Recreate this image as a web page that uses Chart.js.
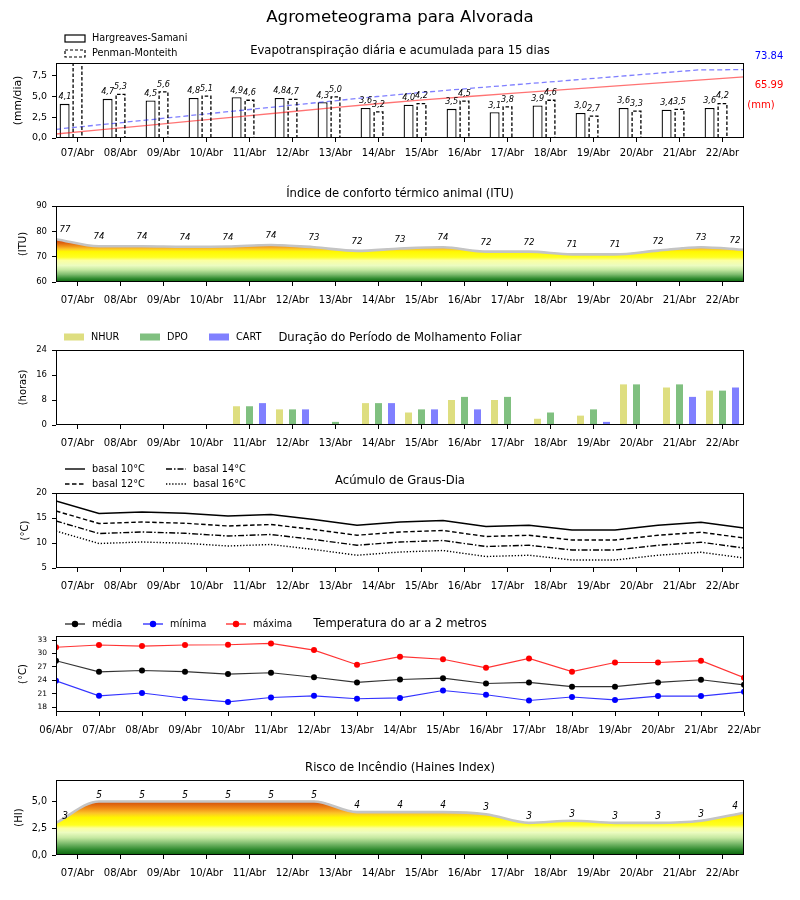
<!DOCTYPE html>
<html lang="pt-BR">
<head>
<meta charset="utf-8">
<title>Agrometeograma para Alvorada</title>
<script src="https://cdn.jsdelivr.net/npm/chart.js@4.4.1/dist/chart.umd.min.js"></script>
<style>
  body { margin: 0; background: #fff; }
  #pagina { position: relative; width: 800px; height: 900px; }
  #pagina canvas { position: absolute; left: 0; }
</style>
</head>
<body>
<div id="pagina">
  <canvas id="graficoEto" width="800" height="170" style="top:0px"></canvas>
  <canvas id="graficoItu" width="800" height="143" style="top:170px"></canvas>
  <canvas id="graficoMolhamento" width="800" height="143" style="top:313px"></canvas>
  <canvas id="graficoGrausDia" width="800" height="143" style="top:456px"></canvas>
  <canvas id="graficoTemperatura" width="800" height="143" style="top:599px"></canvas>
  <canvas id="graficoHaines" width="800" height="143" style="top:742px"></canvas>
</div>
<script>
  // dias da previsão
  const dias = ["07/Abr", "08/Abr", "09/Abr", "10/Abr", "11/Abr", "12/Abr", "13/Abr", "14/Abr",
    "15/Abr", "16/Abr", "17/Abr", "18/Abr", "19/Abr", "20/Abr", "21/Abr", "22/Abr"];
  const diasTemperatura = ["06/Abr", "07/Abr", "08/Abr", "09/Abr", "10/Abr", "11/Abr", "12/Abr", "13/Abr",
    "14/Abr", "15/Abr", "16/Abr", "17/Abr", "18/Abr", "19/Abr", "20/Abr", "21/Abr", "22/Abr"];

  // evapotranspiração (mm/dia) e acumulado (mm)
  const etoHargreaves = [4.1, 4.7, 4.5, 4.8, 4.9, 4.8, 4.3, 3.6, 4.0, 3.5, 3.1, 3.9, 3.0, 3.6, 3.4, 3.6];
  const etoPenman = [9.5, 5.3, 5.6, 5.1, 4.6, 4.7, 5.0, 3.2, 4.2, 4.5, 3.8, 4.6, 2.7, 3.3, 3.5, 4.2];
  const acumHargreaves = [4.3, 9.0, 13.7, 18.4, 23.1, 27.8, 32.5, 37.0, 41.2, 44.8, 48.4, 51.9, 55.4, 58.9, 62.4, 65.99];
  const acumPenman = [9.4, 14.5, 19.5, 24.6, 29.7, 34.7, 39.8, 44.8, 49.3, 53.5, 57.5, 61.5, 65.5, 69.5, 73.5, 73.84];

  // ITU
  const itu = [76.9, 74.1, 74.1, 73.9, 74.0, 74.6, 73.7, 72.3, 73.2, 73.7, 72.0, 72.0, 70.9, 70.9, 72.4, 73.7, 72.7];
  const ituRotulos = [77, 74, 74, 74, 74, 74, 73, 72, 73, 74, 72, 72, 71, 71, 72, 73, 72];

  // molhamento foliar (horas)
  const molhNhur = [0, 0, 0, 0, 6, 5, 0, 7, 4, 8, 8, 2, 3, 13, 12, 11];
  const molhDpo = [0, 0, 0, 0, 6, 5, 1, 7, 5, 9, 9, 4, 5, 13, 13, 11];
  const molhCart = [0, 0, 0, 0, 7, 5, 0, 7, 5, 5, 0, 0, 1, 0, 9, 12];

  // graus-dia
  const gd10 = [18.4, 15.9, 16.2, 15.95, 15.4, 15.7, 14.7, 13.55, 14.2, 14.5, 13.3, 13.55, 12.6, 12.6, 13.55, 14.15, 13.0];
  const gd12 = [16.4, 13.9, 14.2, 13.95, 13.4, 13.7, 12.7, 11.55, 12.2, 12.5, 11.3, 11.55, 10.6, 10.6, 11.55, 12.15, 11.0];
  const gd14 = [14.4, 11.9, 12.2, 11.95, 11.4, 11.7, 10.7, 9.55, 10.2, 10.5, 9.3, 9.55, 8.6, 8.6, 9.55, 10.15, 9.0];
  const gd16 = [12.4, 9.9, 10.2, 9.95, 9.4, 9.7, 8.7, 7.55, 8.2, 8.5, 7.3, 7.55, 6.6, 6.6, 7.55, 8.15, 7.0];

  // temperatura do ar (°C)
  const tMedia = [28.4, 25.9, 26.2, 25.95, 25.4, 25.7, 24.7, 23.55, 24.2, 24.5, 23.3, 23.55, 22.6, 22.6, 23.55, 24.15, 23.0];
  const tMinima = [23.9, 20.55, 21.2, 20.0, 19.2, 20.2, 20.55, 19.9, 20.1, 21.75, 20.8, 19.5, 20.3, 19.65, 20.5, 20.5, 21.45];
  const tMaxima = [31.4, 31.9, 31.65, 31.9, 31.95, 32.25, 30.75, 27.5, 29.3, 28.7, 26.8, 28.9, 25.95, 28.0, 28.0, 28.4, 24.6];

  // Haines
  const haines = [3.0, 5.0, 5.0, 5.0, 5.0, 5.0, 5.0, 4.0, 4.0, 4.0, 3.8, 3.0, 3.2, 3.0, 3.0, 3.2, 3.95];
  const hainesRotulos = [3, 5, 5, 5, 5, 5, 5, 4, 4, 4, 3, 3, 3, 3, 3, 3, 4];

  // marcas dos eixos
  const marcasEto = [0, 2.5, 5, 7.5];
  const marcasItu = [60, 70, 80, 90];
  const marcasMolh = [0, 8, 16, 24];
  const marcasGd = [5, 10, 15, 20];
  const marcasTemp = [18, 21, 24, 27, 30, 33];
  const marcasHaines = [0, 2.5, 5];

  const FONTE = '"DejaVu Sans", sans-serif';
  const FONTE_ESTREITA = '"DejaVu Sans Condensed", "DejaVu Sans", sans-serif';
  Chart.defaults.font.family = FONTE;
  Chart.defaults.color = "#000";
  Chart.defaults.animation = false;
  Chart.defaults.plugins.legend.display = false;
  Chart.defaults.plugins.tooltip.enabled = false;

  const posDias = dias.map((_, i) => i + 0.5);
  const posTemp = diasTemperatura.map((_, i) => i);
  const pontos = (serie) => serie.map((v, i) => ({ x: i, y: v }));
  const virgula = (v) => v.toFixed(1).replace(".", ",");
  const inteiro = (v) => String(v);

  function eixoX(rotulos, posicoes, altura, espaco) {
    return {
      type: "linear", min: 0, max: 16, offset: false,
      afterBuildTicks: (s) => { s.ticks = posicoes.map((v) => ({ value: v })); },
      afterFit: (s) => { s.height = altura; },
      ticks: { callback: (v, i) => rotulos[i], font: { size: 10 }, padding: espaco, maxRotation: 0, minRotation: 0, autoSkip: false },
      grid: { drawOnChartArea: false, tickLength: 4, color: "#000", offset: false },
      border: { display: false },
    };
  }

  function eixoY(min, max, marcas, formato, tamFonte, titulo, tamTitulo, centroTitulo) {
    return {
      type: "linear", min: min, max: max,
      afterBuildTicks: (s) => { s.ticks = marcas.map((v) => ({ value: v })); },
      afterFit: (s) => { s.width = 56; },
      ticks: { callback: formato, font: { size: tamFonte }, padding: 5 },
      grid: { drawOnChartArea: false, tickLength: 4, color: "#000" },
      border: { display: false },
      title: { display: true, text: titulo, font: { size: tamTitulo }, padding: { top: centroTitulo - tamTitulo * 0.6, bottom: 0 } },
    };
  }

  // degradê verde -> amarelo -> vermelho pelo valor do eixo y
  function gradiente(chart, paradas) {
    const a = chart.chartArea;
    if (!a) return "rgba(0,0,0,0)";
    const y = chart.scales.y;
    const g = chart.ctx.createLinearGradient(0, a.bottom, 0, a.top);
    paradas.forEach(([v, cor]) => g.addColorStop((v - y.min) / (y.max - y.min), cor));
    return g;
  }
  const paradasItu = [[60, "#0a640a"], [61.3, "#2f8a2f"], [63, "#80bd70"], [64.8, "#c4e8a0"], [66.5, "#ecfcc0"],
    [68.5, "#fbffa0"], [69.8, "#ffff20"], [72, "#fff800"], [73, "#fcc828"], [74, "#f29a1a"], [75.2, "#e26a10"],
    [76.3, "#d24a0c"], [77.3, "#c81010"], [90, "#c00000"]];
  const paradasHaines = [[0, "#0a640a"], [0.5, "#2f8a2f"], [1.1, "#80bd70"], [1.6, "#c4e8a0"], [2.1, "#ecfcc0"],
    [2.5, "#fbffa0"], [2.8, "#ffff20"], [3.5, "#fff400"], [3.9, "#fcc428"], [4.3, "#f29018"], [4.7, "#e06810"],
    [5.0, "#d04c0a"], [7, "#c02000"]];

  // marcadores de legenda
  const caixa = (fundo, borda, traco) => (ctx, x, y) => {
    ctx.fillStyle = fundo;
    ctx.fillRect(x, y - 3.5, 20, 7);
    if (borda) {
      ctx.strokeStyle = borda; ctx.lineWidth = 1.2; ctx.setLineDash(traco);
      ctx.strokeRect(x, y - 3.5, 20, 7);
    }
  };
  const linha = (cor, traco, largura, ponto) => (ctx, x, y) => {
    ctx.strokeStyle = cor; ctx.lineWidth = largura; ctx.setLineDash(traco);
    ctx.beginPath(); ctx.moveTo(x, y); ctx.lineTo(x + 20, y); ctx.stroke();
    if (ponto) {
      ctx.fillStyle = cor;
      ctx.beginPath(); ctx.arc(x + 10, y, 3.2, 0, Math.PI * 2); ctx.fill();
    }
  };

  // moldura, título e legenda de cada painel
  function moldura(titulo, legenda, tituloGeral) {
    return {
      id: "moldura",
      afterDraw(chart) {
        const { ctx, chartArea: a } = chart;
        ctx.save();
        ctx.strokeStyle = "#000"; ctx.lineWidth = 1;
        ctx.strokeRect(Math.round(a.left) + 0.5, Math.round(a.top) + 0.5, Math.round(a.width) - 1, Math.round(a.height) - 1);
        ctx.fillStyle = "#000";
        ctx.textBaseline = "middle";
        ctx.textAlign = "center";
        if (tituloGeral) {
          ctx.font = `16.6px ${FONTE}`;
          ctx.fillText(tituloGeral, 400, 18);
        }
        ctx.font = `11.6px ${FONTE}`;
        ctx.fillText(titulo, (a.left + a.right) / 2, a.top - 12.5);
        ctx.font = `9.7px ${FONTE}`;
        ctx.textAlign = "left";
        (legenda || []).forEach((item) => {
          const y = a.top + item.dy;
          ctx.save(); item.marca(ctx, item.x, y); ctx.restore();
          ctx.fillText(item.texto, item.x + 27, y);
        });
        ctx.restore();
      },
    };
  }

  // valores escritos sobre barras / pontos
  function rotulosValores(series, dy, fonte) {
    return {
      id: "rotulosValores",
      afterDatasetsDraw(chart) {
        const { ctx, chartArea: a } = chart;
        ctx.save();
        ctx.font = fonte; ctx.textAlign = "center"; ctx.textBaseline = "middle"; ctx.fillStyle = "#000";
        series.forEach(([ds, textos]) => {
          chart.getDatasetMeta(ds).data.forEach((el, i) => {
            if (el.y < a.top + 1) return;
            const x = Math.min(Math.max(el.x, a.left + 9), a.right - 9);
            ctx.fillText(textos[i], x, el.y + dy);
          });
        });
        ctx.restore();
      },
    };
  }

  // contorno tracejado das barras de Penman-Monteith
  function contornoTracejado(ds) {
    return {
      id: "contornoTracejado",
      afterDatasetsDraw(chart) {
        const { ctx, chartArea: a } = chart;
        ctx.save();
        ctx.beginPath(); ctx.rect(a.left, a.top, a.width, a.height); ctx.clip();
        ctx.strokeStyle = "#000"; ctx.lineWidth = 1.3; ctx.setLineDash([3.5, 2]);
        chart.getDatasetMeta(ds).data.forEach((b) => {
          const l = b.x - b.width / 2 + 0.6, r = b.x + b.width / 2 - 0.6;
          ctx.beginPath(); ctx.moveTo(l, b.base); ctx.lineTo(l, b.y + 0.6); ctx.lineTo(r, b.y + 0.6); ctx.lineTo(r, b.base); ctx.stroke();
        });
        ctx.restore();
      },
    };
  }

  const textosAcumulados = {
    id: "textosAcumulados",
    afterDraw(chart) {
      const { ctx, chartArea: a } = chart;
      const fimHs = chart.getDatasetMeta(2).data[acumHargreaves.length - 1];
      const fimPm = chart.getDatasetMeta(3).data[acumPenman.length - 1];
      ctx.save();
      ctx.font = `10px ${FONTE}`; ctx.textAlign = "center"; ctx.textBaseline = "middle";
      ctx.fillStyle = "#0000ff";
      ctx.fillText(acumPenman[acumPenman.length - 1].toFixed(2), 769, fimPm.y - 13);
      ctx.fillStyle = "#ff0000";
      ctx.fillText(acumHargreaves[acumHargreaves.length - 1].toFixed(2), 769, fimHs.y + 8.5);
      ctx.fillText("(mm)", 761, a.top + 42);
      ctx.restore();
    },
  };

  // Evapotranspiração: barras lado a lado, um pouco à esquerda de cada marca do dia
  const deslocHargreaves = 0.2, deslocPenman = 0.5;
  const barrasEto = { backgroundColor: "#fff", grouped: false, categoryPercentage: 1, barPercentage: 0.775, maxBarThickness: 10, order: 2 };
  new Chart(document.getElementById("graficoEto"), {
    type: "bar",
    data: {
      datasets: [
        { ...barrasEto, label: "Hargreaves-Samani", data: etoHargreaves.map((v, i) => ({ x: i + deslocHargreaves, y: v })),
          borderColor: "#000", borderWidth: 1.3 },
        { ...barrasEto, label: "Penman-Monteith", data: etoPenman.map((v, i) => ({ x: i + deslocPenman, y: v })),
          borderWidth: 0 },
        { type: "line", data: pontos(acumHargreaves), xAxisID: "xa", yAxisID: "ya",
          borderColor: "rgba(255,0,0,0.55)", borderWidth: 1.3, pointRadius: 0, order: 1 },
        { type: "line", data: pontos(acumPenman), xAxisID: "xa", yAxisID: "ya",
          borderColor: "rgba(0,0,255,0.5)", borderWidth: 1.3, borderDash: [5, 3], pointRadius: 0, order: 1 },
      ],
    },
    options: {
      responsive: false,
      layout: { padding: { top: 63, right: 56, left: 0, bottom: 0 } },
      scales: {
        x: eixoX(dias, posDias, 32, 5),
        y: eixoY(0, 9, marcasEto, virgula, 9.5, "(mm/dia)", 10.8, 18.5),
        xa: { type: "linear", display: false, offset: false, min: 0, max: 15 },
        ya: { type: "linear", display: false, min: 0, max: 81 },
      },
    },
    plugins: [
      contornoTracejado(1),
      rotulosValores([[0, etoHargreaves.map(virgula)], [1, etoPenman.map(virgula)]], -7, `italic 9px ${FONTE_ESTREITA}`),
      textosAcumulados,
      moldura("Evapotranspiração diária e acumulada para 15 dias", [
        { x: 65, dy: -24.5, texto: "Hargreaves-Samani", marca: caixa("#fff", "#000", []) },
        { x: 65, dy: -9.5, texto: "Penman-Monteith", marca: caixa("#fff", "#000", [3, 2]) },
      ], "Agrometeograma para Alvorada"),
    ],
  });

  // ITU
  new Chart(document.getElementById("graficoItu"), {
    type: "line",
    data: {
      datasets: [
        { data: pontos(itu), fill: "start", backgroundColor: (c) => gradiente(c.chart, paradasItu),
          borderColor: "#c4c4c4", borderWidth: 2.6, pointRadius: 0, cubicInterpolationMode: "monotone" },
        { data: pontos(itu), fill: false, borderColor: "#6e6e6e", borderWidth: 1, pointRadius: 0, cubicInterpolationMode: "monotone" },
      ],
    },
    options: {
      responsive: false,
      layout: { padding: { top: 36, right: 56, left: 0, bottom: 0 } },
      scales: { x: eixoX(dias, posDias, 31, 8), y: eixoY(60, 90, marcasItu, inteiro, 8.5, "(ITU)", 10, 23.5) },
    },
    plugins: [
      rotulosValores([[0, ituRotulos]], -9.5, `italic 9.5px ${FONTE_ESTREITA}`),
      moldura("Índice de conforto térmico animal (ITU)"),
    ],
  });

  // Molhamento foliar
  const corNhur = "#dede80", corDpo = "#80c080", corCart = "#8080ff";
  const barrasMolh = (serie, cor, nome) => ({
    label: nome, data: serie.map((v, i) => ({ x: i + 0.5, y: v })), backgroundColor: cor, borderWidth: 0,
    categoryPercentage: 0.907, barPercentage: 0.54,
  });
  new Chart(document.getElementById("graficoMolhamento"), {
    type: "bar",
    data: { datasets: [barrasMolh(molhNhur, corNhur, "NHUR"), barrasMolh(molhDpo, corDpo, "DPO"), barrasMolh(molhCart, corCart, "CART")] },
    options: {
      responsive: false,
      layout: { padding: { top: 37, right: 56, left: 0, bottom: 0 } },
      scales: { x: eixoX(dias, posDias, 31, 8), y: eixoY(0, 24, marcasMolh, inteiro, 8.5, "(horas)", 10, 23.5) },
    },
    plugins: [
      moldura("Duração do Período de Molhamento Foliar", [
        { x: 64, dy: -13, texto: "NHUR", marca: caixa(corNhur) },
        { x: 140, dy: -13, texto: "DPO", marca: caixa(corDpo) },
        { x: 209, dy: -13, texto: "CART", marca: caixa(corCart) },
      ]),
    ],
  });

  // Graus-dia
  const tracos = { b10: [], b12: [4.5, 2.5], b14: [6, 2, 1.5, 2], b16: [1.3, 1.8] };
  const linhaGd = (serie, traco) => ({ data: pontos(serie), borderColor: "#000", borderWidth: 1.4, borderDash: traco, pointRadius: 0, fill: false });
  new Chart(document.getElementById("graficoGrausDia"), {
    type: "line",
    data: { datasets: [linhaGd(gd10, tracos.b10), linhaGd(gd12, tracos.b12), linhaGd(gd14, tracos.b14), linhaGd(gd16, tracos.b16)] },
    options: {
      responsive: false,
      layout: { padding: { top: 37, right: 56, left: 0, bottom: 0 } },
      scales: { x: eixoX(dias, posDias, 31, 8), y: eixoY(5, 20, marcasGd, inteiro, 8.5, "(°C)", 10, 25) },
    },
    plugins: [
      moldura("Acúmulo de Graus-Dia", [
        { x: 65, dy: -24, texto: "basal 10°C", marca: linha("#000", tracos.b10, 1.4) },
        { x: 65, dy: -9, texto: "basal 12°C", marca: linha("#000", tracos.b12, 1.4) },
        { x: 166, dy: -24, texto: "basal 14°C", marca: linha("#000", tracos.b14, 1.4) },
        { x: 166, dy: -9, texto: "basal 16°C", marca: linha("#000", tracos.b16, 1.4) },
      ]),
    ],
  });

  // Temperatura do ar
  const linhaTemp = (serie, cor, linhaCor) => ({ data: pontos(serie), borderColor: linhaCor, borderWidth: 1.1,
    pointRadius: 3, pointBackgroundColor: cor, pointBorderWidth: 0, fill: false });
  new Chart(document.getElementById("graficoTemperatura"), {
    type: "line",
    data: {
      datasets: [
        linhaTemp(tMedia, "#000", "rgba(0,0,0,0.8)"),
        linhaTemp(tMinima, "#0000ff", "rgba(0,0,255,0.8)"),
        linhaTemp(tMaxima, "#ff0000", "rgba(255,0,0,0.8)"),
      ],
    },
    options: {
      responsive: false,
      layout: { padding: { top: 37, right: 56, left: 0, bottom: 0 } },
      scales: { x: eixoX(diasTemperatura, posTemp, 30, 8), y: eixoY(16.95, 33.9, marcasTemp, inteiro, 7.5, "(°C)", 10, 23.5) },
    },
    plugins: [
      moldura("Temperatura do ar a 2 metros", [
        { x: 65, dy: -12, texto: "média", marca: linha("#000", [], 1.1, true) },
        { x: 143, dy: -12, texto: "mínima", marca: linha("#0000ff", [], 1.1, true) },
        { x: 226, dy: -12, texto: "máxima", marca: linha("#ff0000", [], 1.1, true) },
      ]),
    ],
  });

  // Haines
  new Chart(document.getElementById("graficoHaines"), {
    type: "line",
    data: {
      datasets: [
        { data: pontos(haines), fill: "start", backgroundColor: (c) => gradiente(c.chart, paradasHaines),
          borderColor: "#c4c4c4", borderWidth: 2.6, pointRadius: 0, cubicInterpolationMode: "monotone" },
        { data: pontos(haines), fill: false, borderColor: "#6e6e6e", borderWidth: 1, pointRadius: 0, cubicInterpolationMode: "monotone" },
      ],
    },
    options: {
      responsive: false,
      layout: { padding: { top: 38, right: 56, left: 0, bottom: 0 } },
      scales: { x: eixoX(dias, posDias, 30, 8), y: eixoY(0, 7, marcasHaines, virgula, 9.6, "(HI)", 10, 19) },
    },
    plugins: [
      rotulosValores([[0, hainesRotulos]], -6.5, `italic 10px ${FONTE_ESTREITA}`),
      moldura("Risco de Incêndio (Haines Index)"),
    ],
  });
</script>
</body>
</html>
